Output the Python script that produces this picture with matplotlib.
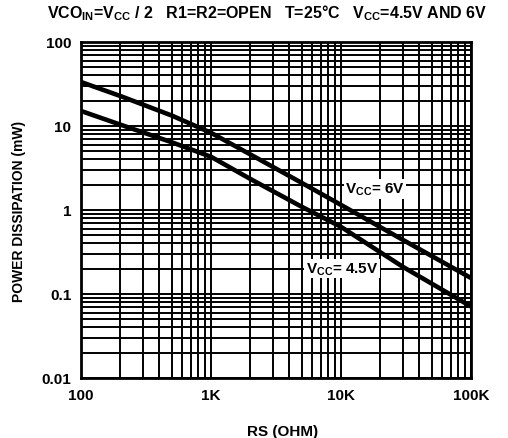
import matplotlib
matplotlib.use('Agg')
import matplotlib.pyplot as plt
from matplotlib.ticker import LogLocator, NullFormatter

plt.rcParams['font.family'] = ['Liberation Sans', 'DejaVu Sans']
plt.rcParams['font.weight'] = 'bold'
plt.rcParams['mathtext.default'] = 'bf'
plt.rcParams['mathtext.fontset'] = 'custom'
plt.rcParams['mathtext.bf'] = 'Liberation Sans:bold'
plt.rcParams['mathtext.rm'] = 'Liberation Sans:bold'

rs = [100, 200, 500, 1000, 2000, 5000, 10000, 30000, 100000]
pd_6v = [33.4, 22.8, 13.3, 8.3, 4.6, 2.1, 1.15, 0.44, 0.155]
pd_45v = [15.1, 10.4, 6.4, 4.3, 2.35, 1.09, 0.63, 0.21, 0.071]

x_ticks = [100, 1000, 10000, 100000]
x_labels = ['100', '1K', '10K', '100K']
y_ticks = [0.01, 0.1, 1, 10, 100]
y_labels = ['0.01', '0.1', '1', '10', '100']

fig = plt.figure(figsize=(5.08, 4.39), dpi=100)
ax = fig.add_axes([81 / 508, 60 / 439, 390 / 508, 336 / 439])

ax.set_xscale('log')
ax.set_yscale('log')
ax.set_xlim(100, 100000)
ax.set_ylim(0.01, 100)

ax.xaxis.set_minor_locator(LogLocator(base=10, subs=range(2, 10)))
ax.yaxis.set_minor_locator(LogLocator(base=10, subs=range(2, 10)))
ax.xaxis.set_minor_formatter(NullFormatter())
ax.yaxis.set_minor_formatter(NullFormatter())
ax.grid(True, which='both', color='black', lw=1.4)
ax.set_axisbelow(True)

ax.plot(rs, pd_6v, color='black', lw=3.3, solid_capstyle='butt')
ax.plot(rs, pd_45v, color='black', lw=3.3, solid_capstyle='butt')

ax.set_xticks(x_ticks)
ax.set_xticklabels(x_labels)
ax.set_yticks(y_ticks)
ax.set_yticklabels(y_labels)
ax.tick_params(which='both', length=0, labelsize=11, pad=7)
for sp in ax.spines.values():
    sp.set_linewidth(2)

box = dict(facecolor='white', edgecolor='none', pad=1)
ax.text(18300, 1.78, r'V$_{CC}$= 6V', fontsize=11, ha='center', va='center', bbox=box)
ax.text(10200, 0.199, r'V$_{CC}$= 4.5V', fontsize=11, ha='center', va='center', bbox=box)

fig.text(267 / 508, 1 - 13 / 439,
         r'VCO$_{IN}$=V$_{CC}$ / 2   R1=R2=OPEN   T=25°C   V$_{CC}$=4.5V AND 6V',
         ha='center', va='center', fontsize=11.5)
fig.text(283 / 508, 1 - 432 / 439, 'RS (OHM)', ha='center', va='center', fontsize=11)
fig.text(19 / 508, 1 - 211 / 439, 'POWER DISSIPATION (mW)', rotation=90,
         ha='center', va='center', fontsize=10)

fig.savefig('out.png', dpi=100)
